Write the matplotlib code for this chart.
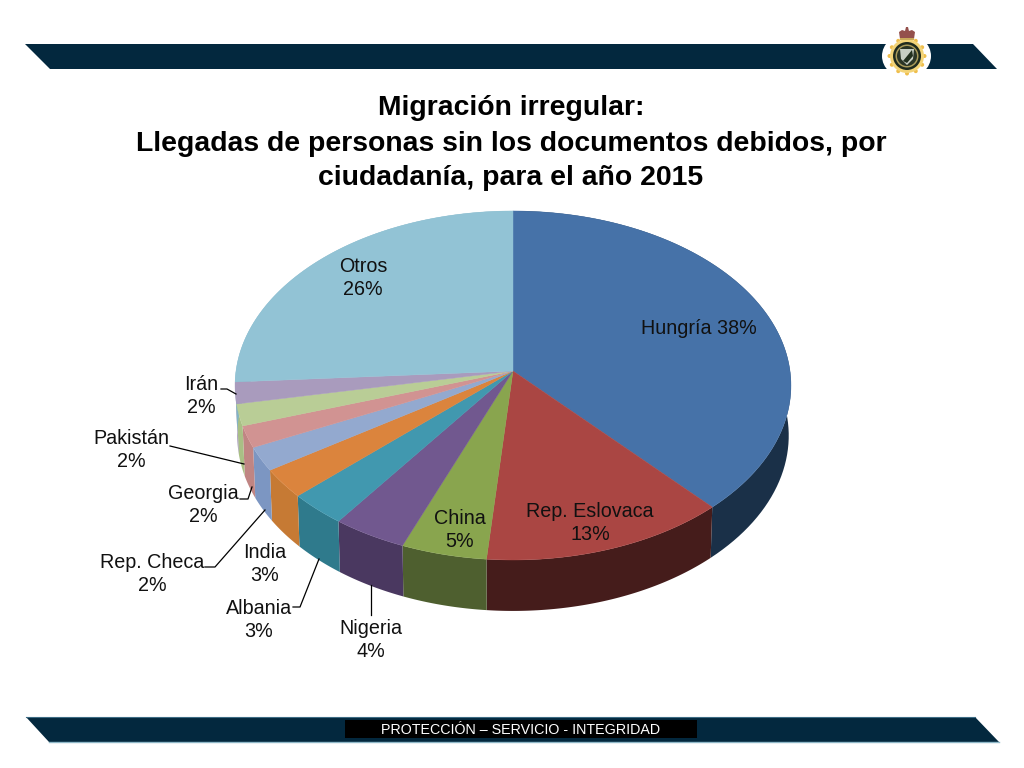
import numpy as np
import matplotlib
matplotlib.use('Agg')
import matplotlib.pyplot as plt
from matplotlib.patches import Polygon, Circle, Ellipse

plt.rcParams['font.family'] = ['Liberation Sans', 'DejaVu Sans']

# data (labels are rounded, slices are a bit finer)
categories = ['Hungría', 'Rep. Eslovaca', 'China', 'Nigeria', 'Albania', 'India',
              'Rep. Checa', 'Georgia', 'Pakistán', 'Irán', 'Otros']
values = [38.2, 13.2, 4.6, 4.0, 3.1, 2.7, 2.2, 2.0, 2.0, 2.0, 26.0]
percent_labels = ['38%', '13%', '5%', '4%', '3%', '3%', '2%', '2%', '2%', '2%', '26%']
top_colors = ['#4672a8', '#aa4643', '#89a54e', '#71588f', '#4198af', '#db843d',
              '#93a9cf', '#d19392', '#b9cd96', '#a99bbd', '#92c3d5']
wall_colors = ['#1a3048', '#451c1b', '#4e5f2f', '#4a3860', '#2f7a8c', '#c67a34',
               '#7c96c2', '#c08583', '#a9bf85', '#9a8cb0', '#82b3c5']

# label centres in pixels
label_pos = [(699, 329), (590, 523), (460, 530), (371, 640), (259, 620), (265, 564),
             (152, 574), (203, 505), (131, 450), (201, 396), (363, 278)]
leaders = [
    [(371, 585), (371, 615)],
    [(293, 607), (300, 607), (319, 559)],
    [(205, 567), (215, 567), (265, 510)],
    [(240, 499), (248, 499), (252, 487)],
    [(170, 446), (244, 464)],
    [(221, 389), (227, 389), (236, 394)],
]

CX, CY = 513, 371
DEPTH = 50
NAVY = '#03283e'


def rim(theta, bottom=False):
    # circle seen in perspective, theta clockwise from the top
    X = np.sin(theta)
    Y = np.cos(theta)
    w = 1 + 0.083 * Y
    x = 277 * X / w
    y = -173.3 * Y / w
    if bottom:
        return CX + x * 0.992, CY + y * 1.005 + DEPTH
    return CX + x, CY + y


fig = plt.figure(figsize=(10.24, 7.68), dpi=100)
ax = fig.add_axes([0, 0, 1, 1])
ax.set_xlim(0, 1024)
ax.set_ylim(768, 0)
ax.axis('off')

# banners
ax.add_patch(Polygon([(25, 44), (973, 44), (997, 69), (50, 69)], color=NAVY, lw=0))
ax.add_patch(Polygon([(26, 717), (975, 717), (999, 742), (49, 742)], color=NAVY, lw=0))
ax.plot([49, 999], [742, 742], color='#8fb8c8', lw=1)
ax.plot([26, 975], [717, 717], color='#3d6c84', lw=0.8)
ax.add_patch(Polygon([(345, 720), (697, 720), (697, 738), (345, 738)], color='black', lw=0))
ax.text(521, 729.5, 'PROTECCIÓN – SERVICIO - INTEGRIDAD', color='white', fontsize=10.3,
        ha='center', va='center')

# logo
ax.add_patch(Ellipse((906.5, 56), 49, 44, color='white', lw=0))
for a in np.arange(0, 360, 30):
    ax.add_patch(Circle((907 + 17.5 * np.cos(np.radians(a)), 56 + 17.5 * np.sin(np.radians(a))),
                        2.0, color='#efbe4c', lw=0))
ax.add_patch(Circle((907, 56), 17, color='#f3d478', lw=0))
ax.add_patch(Circle((907, 56), 14, color='#1f2b1e', lw=0))
ax.add_patch(Circle((907, 56), 11.5, color='#a89a5a', lw=0))
ax.add_patch(Circle((907, 56), 10, color='#2a3526', lw=0))
ax.add_patch(Polygon([(900, 49), (914, 49), (913, 59), (907, 65), (901, 59)], color='#c8cfc4', lw=0))
ax.add_patch(Polygon([(903, 61), (912, 50), (913, 56), (907, 63)], color='#22301f', lw=0))
ax.add_patch(Polygon([(900, 39), (899, 32), (902, 30), (905, 31), (906, 27), (908, 27), (909, 31),
                      (912, 30), (915, 32), (914, 39)], color='#94504c', lw=0))
ax.add_patch(Polygon([(900, 38), (914, 38), (914, 40), (900, 40)], color='#c9a95a', lw=0))

# pie, walls first and the top over them
edges = np.cumsum([0] + values) / sum(values) * 2 * np.pi
for i in range(len(values)):
    t = np.linspace(edges[i], edges[i + 1], 80)
    xt, yt = rim(t)
    xb, yb = rim(t, bottom=True)
    wall = np.column_stack([np.r_[xt, xb[::-1]], np.r_[yt, yb[::-1]]])
    ax.add_patch(Polygon(wall, color=wall_colors[i], lw=0, zorder=2))
for i in range(len(values)):
    t = np.linspace(edges[i], edges[i + 1], 120)
    xt, yt = rim(t)
    top = np.column_stack([np.r_[CX, xt], np.r_[CY, yt]])
    ax.add_patch(Polygon(top, facecolor=top_colors[i], edgecolor=top_colors[i], lw=0.3, zorder=3))

for line in leaders:
    ax.plot([p[0] for p in line], [p[1] for p in line], color='black', lw=0.9, zorder=4)

for i, name in enumerate(categories):
    sep = ' ' if i == 0 else '\n'
    ax.text(label_pos[i][0], label_pos[i][1], name + sep + percent_labels[i], fontsize=14.2,
            color='#111111', ha='center', va='center', linespacing=1.28, zorder=5)

ax.text(511, 108, 'Migración irregular:', fontsize=20.4, fontweight='bold', ha='center', va='center')
ax.text(511, 144, 'Llegadas de personas sin los documentos debidos, por', fontsize=20.4,
        fontweight='bold', ha='center', va='center')
ax.text(511, 178, 'ciudadanía, para el año 2015', fontsize=20.4, fontweight='bold', ha='center', va='center')

fig.savefig('out.png', dpi=100)
